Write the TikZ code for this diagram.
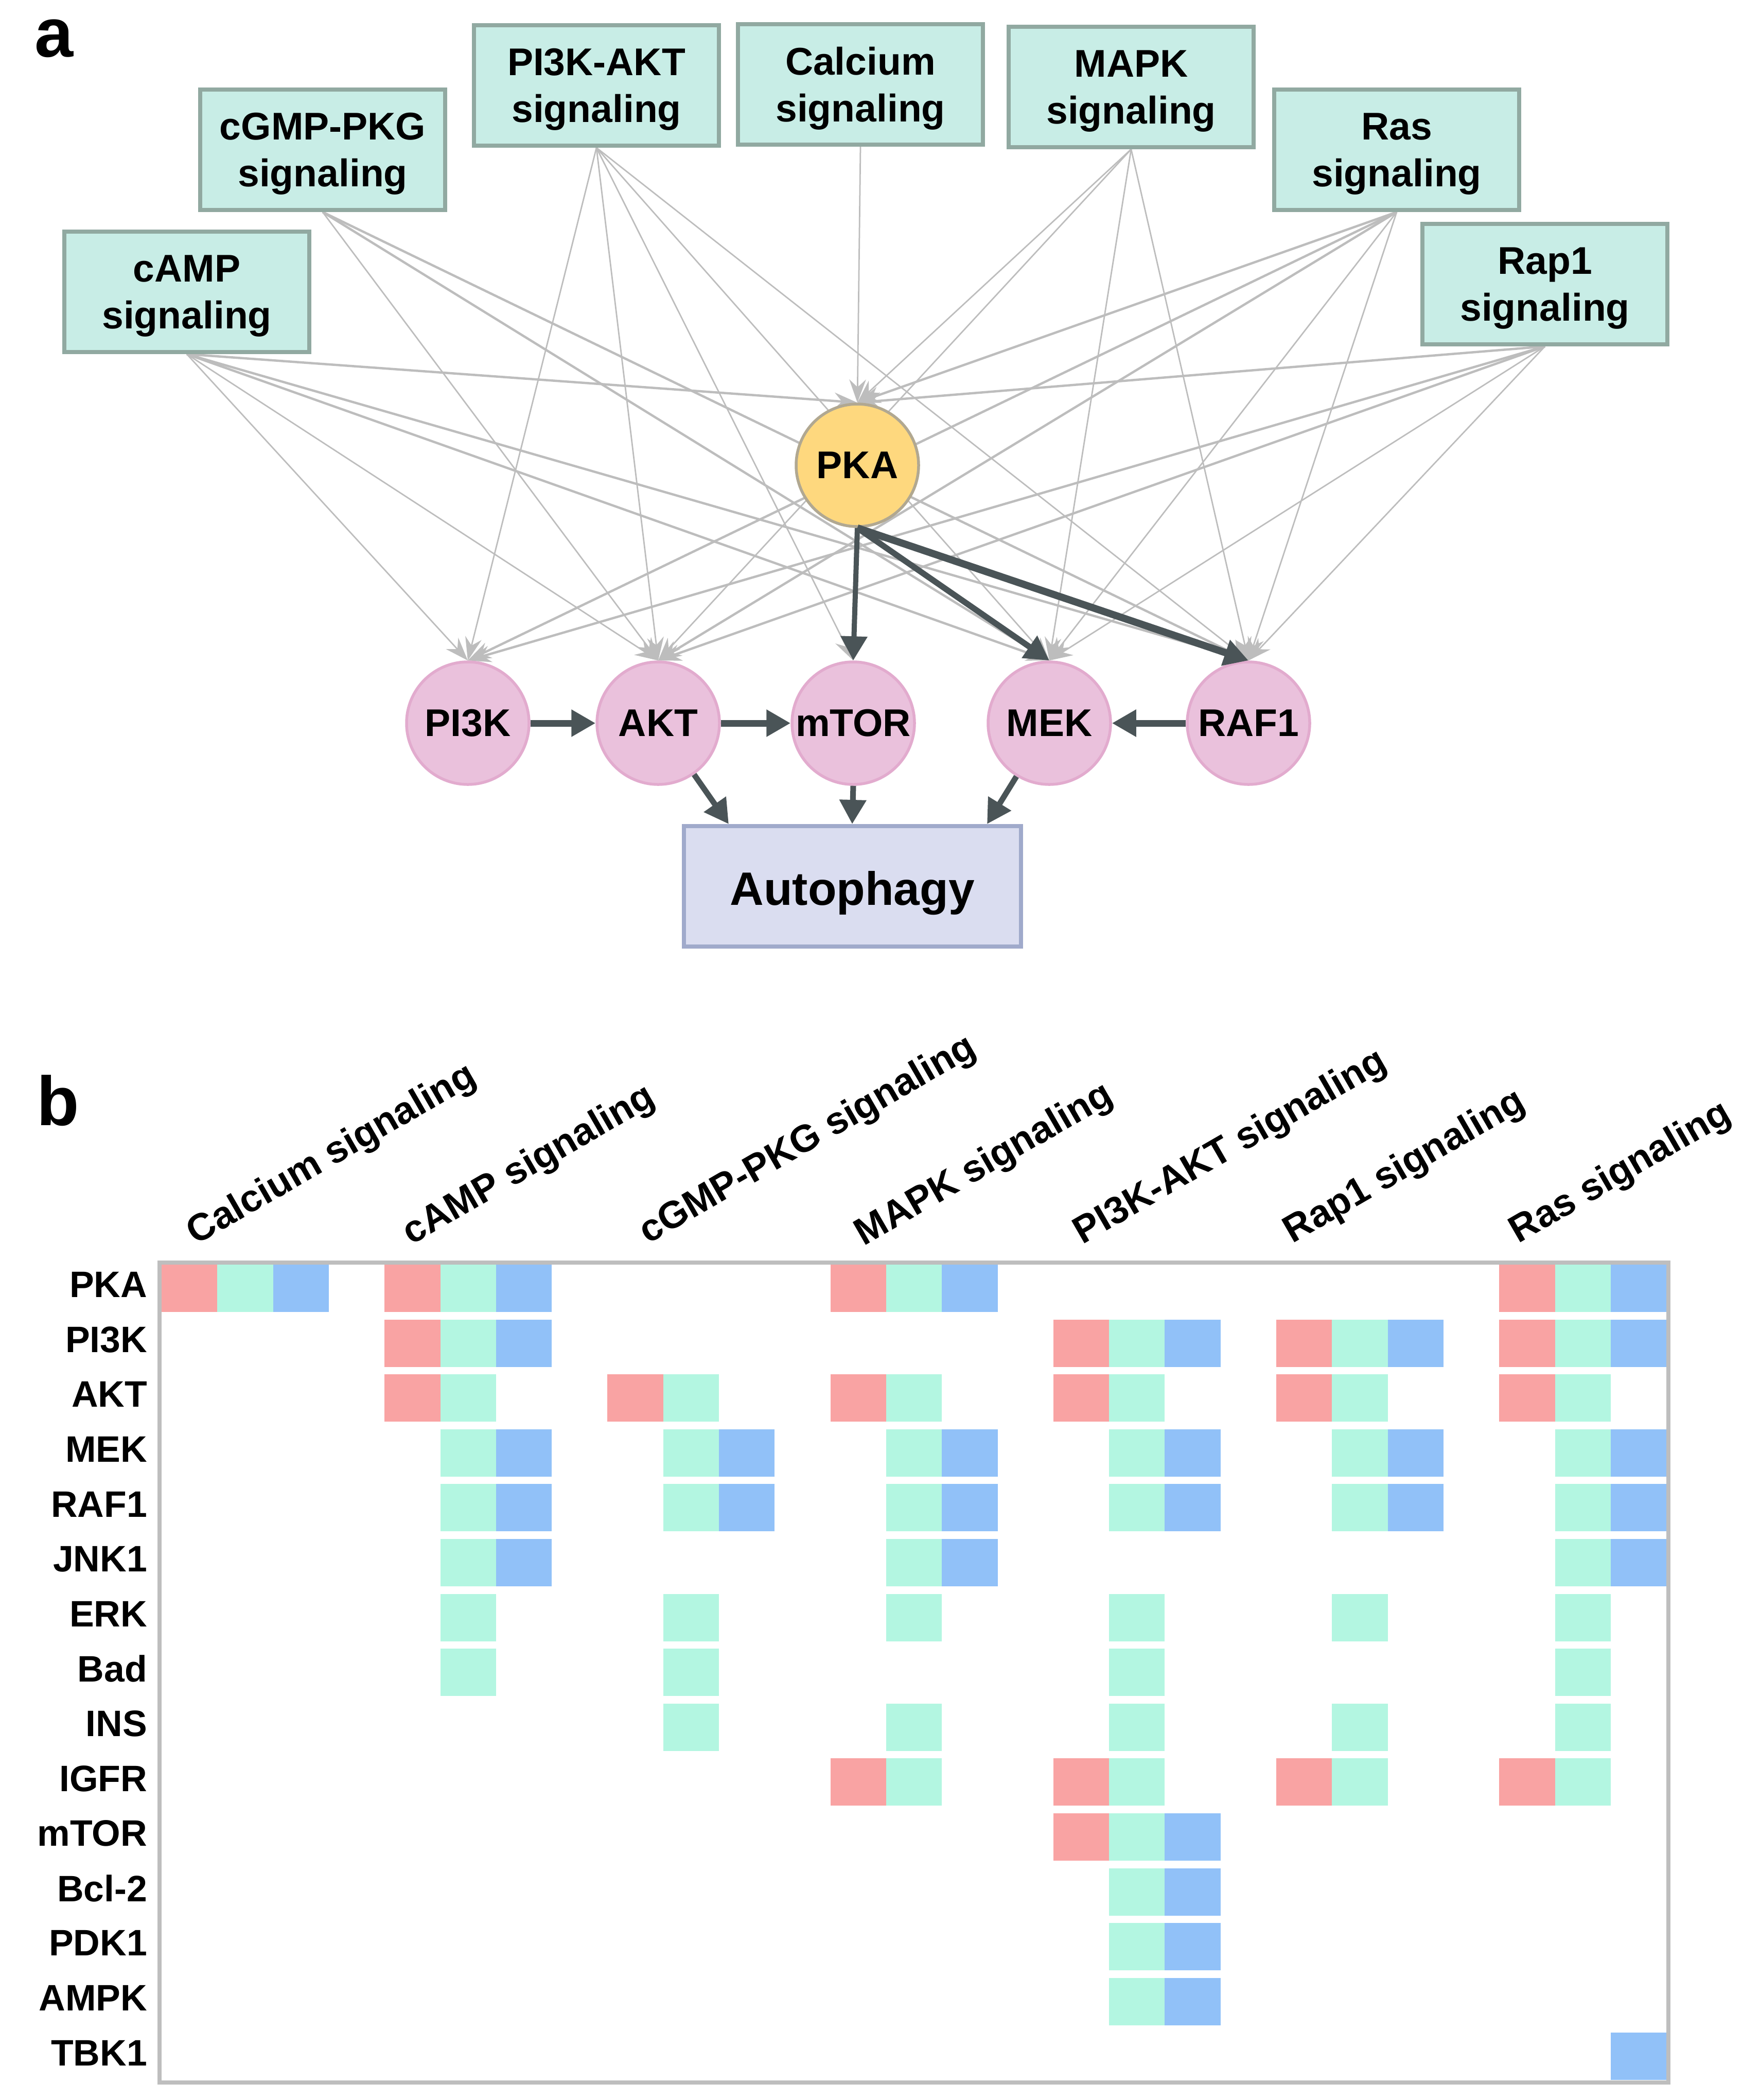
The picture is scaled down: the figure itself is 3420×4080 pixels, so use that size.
\documentclass[tikz,border=0pt]{standalone}
\usepackage{fontspec}
\setmainfont{Liberation Sans}
\usetikzlibrary{arrows.meta}
\definecolor{boxfill}{HTML}{C8EDE6}
\definecolor{boxdraw}{HTML}{91A9A1}
\definecolor{pkafill}{HTML}{FED87E}
\definecolor{pkadraw}{HTML}{B1A891}
\definecolor{pinkfill}{HTML}{EAC1DC}
\definecolor{pinkdraw}{HTML}{E2ABCE}
\definecolor{autofill}{HTML}{DADDF0}
\definecolor{autodraw}{HTML}{A0AACB}
\definecolor{darkedge}{HTML}{4A5457}
\definecolor{grayedge}{HTML}{BDBDBD}
\definecolor{c0}{HTML}{F9A3A3}
\definecolor{c1}{HTML}{B3F6E1}
\definecolor{c2}{HTML}{91C1F8}
\definecolor{framegray}{HTML}{BEBEBE}
\pgfdeclarelayer{back}
\pgfdeclarelayer{edges}
\pgfsetlayers{back,edges,main}
\begin{document}
\begin{tikzpicture}[x=0.2pt, y=-0.2pt,
 pathbox/.style={rectangle, draw=boxdraw, fill=boxfill, line width=1.6pt, minimum width=95.2pt, minimum height=46.8pt, inner sep=0pt, text depth=0pt, align=center, font=\fontsize{15}{18.2}\selectfont\bfseries},
 gene/.style={circle, draw=pinkdraw, fill=pinkfill, line width=1.1pt, minimum size=47.6pt, inner sep=0pt, font=\fontsize{15}{18}\selectfont\bfseries},
 hub/.style={gene, draw=pkadraw, fill=pkafill},
 outcome/.style={rectangle, draw=autodraw, fill=autofill, line width=1.6pt, minimum width=131pt, minimum height=46.8pt, inner sep=0pt, text depth=0pt, font=\fontsize{18.2}{22}\selectfont\bfseries},
 gedge/.style={draw=grayedge, line width=0.55pt, -{Stealth[length=9pt,width=6.5pt,inset=3pt]}},
 gthick/.style={gedge, line width=0.9pt},
 darr/.style={draw=darkedge, line width=2.4pt, -{Triangle[length=9.4pt,width=10pt]}},
 rowlbl/.style={anchor=east, font=\fontsize{14.3}{16}\selectfont\bfseries, inner sep=0pt},
 colhdr/.style={anchor=base west, rotate=30, font=\fontsize{14.8}{16}\selectfont\bfseries, inner sep=0pt},
 panel/.style={anchor=base west, font=\fontsize{27}{30}\selectfont\bfseries, inner sep=0pt}]

\useasboundingbox (0,0) rectangle (3420,4080);
\begin{pgfonlayer}{back}
\fill[white] (0,0) rectangle (3420,4080);
\end{pgfonlayer}

% ---------- panel a ----------
\node[panel] (pa) at (66,110) {a};

\node[pathbox] (cAMP) at (363,567) {cAMP\\signaling};
\node[pathbox] (cGMP) at (627,291) {cGMP-PKG\\signaling};
\node[pathbox] (PIAKT) at (1159,166) {PI3K-AKT\\signaling};
\node[pathbox] (Calc) at (1672,164) {Calcium\\signaling};
\node[pathbox] (MAPK) at (2198,169) {MAPK\\signaling};
\node[pathbox] (Ras) at (2714,291) {Ras\\signaling};
\node[pathbox] (Rap) at (3002,552) {Rap1\\signaling};

\node[hub] (PKA) at (1666,904) {PKA};
\node[gene] (PI3K) at (909,1405) {PI3K};
\node[gene] (AKT) at (1279,1405) {AKT};
\node[gene] (mTOR) at (1658,1405) {mTOR};
\node[gene] (MEK) at (2039,1405) {MEK};
\node[gene] (RAF1) at (2426,1405) {RAF1};

\node[outcome] (auto) at (1656,1722) {\raisebox{-1.6pt}{Autophagy}};
\coordinate (aL) at (1416,1601);
\coordinate (aR) at (1918,1601);

\begin{pgfonlayer}{edges}
% cAMP
\draw[gthick] (cAMP.south) -- (PKA.north);
\draw[gedge] (cAMP.south) -- (PI3K.north);
\draw[gedge] (cAMP.south) -- (AKT.north);
\draw[gthick] (cAMP.south) -- (MEK.north);
\draw[gthick] (cAMP.south) -- (RAF1.north);
% cGMP-PKG
\draw[gedge] (cGMP.south) -- (AKT.north);
\draw[gthick] (cGMP.south) -- (MEK.north);
\draw[gthick] (cGMP.south) -- (RAF1.north);
% PI3K-AKT
\draw[gedge] (PIAKT.south) -- (PI3K.north);
\draw[gedge] (PIAKT.south) -- (AKT.north);
\draw[gedge] (PIAKT.south) -- (mTOR.north);
\draw[gedge] (PIAKT.south) -- (MEK.north);
\draw[gedge] (PIAKT.south) -- (RAF1.north);
% Calcium
\draw[gedge] (Calc.south) -- (PKA.north);
% MAPK
\draw[gedge] (MAPK.south) -- (PKA.north);
\draw[gedge] (MAPK.south) -- (AKT.north);
\draw[gedge] (MAPK.south) -- (MEK.north);
\draw[gedge] (MAPK.south) -- (RAF1.north);
% Ras
\draw[gthick] (Ras.south) -- (PKA.north);
\draw[gthick] (Ras.south) -- (PI3K.north);
\draw[gthick] (Ras.south) -- (AKT.north);
\draw[gedge] (Ras.south) -- (MEK.north);
\draw[gedge] (Ras.south) -- (RAF1.north);
% Rap1
\draw[gthick] (Rap.south) -- (PKA.north);
\draw[gthick] (Rap.south) -- (PI3K.north);
\draw[gthick] (Rap.south) -- (AKT.north);
\draw[gedge] (Rap.south) -- (MEK.north);
\draw[gedge] (Rap.south) -- (RAF1.north);
\end{pgfonlayer}

\draw[darr, line width=2pt] (PKA.south) -- (mTOR.north);
\draw[darr, line width=2.3pt] (PKA.south) -- (MEK.north);
\draw[darr, line width=2.8pt] (PKA.south) -- (RAF1.north);
\draw[darr, line width=2.6pt] (PI3K) -- (AKT);
\draw[darr, line width=2.6pt] (AKT) -- (mTOR);
\draw[darr, line width=2.6pt] (RAF1) -- (MEK);
\draw[darr, line width=2.2pt] (AKT) -- (aL);
\draw[darr, line width=2.2pt] (mTOR.south) -- (auto.north);
\draw[darr, line width=2.2pt] (MEK) -- (aR);

% ---------- panel b ----------
\node[panel] (pb) at (70,2186) {b};

\node[colhdr] (h0) at (380,2420) {Calcium signaling};
\node[colhdr] (h1) at (799,2420) {cAMP signaling};
\node[colhdr] (h2) at (1259,2418) {cGMP-PKG signaling};
\node[colhdr] (h3) at (1678,2422) {MAPK signaling};
\node[colhdr] (h4) at (2103,2419) {PI3K-AKT signaling};
\node[colhdr] (h5) at (2511,2417) {Rap1 signaling};
\node[colhdr] (h6) at (2950,2417) {Ras signaling};

\foreach \lbl [count=\i from 0] in {PKA,PI3K,AKT,MEK,RAF1,JNK1,ERK,Bad,INS,IGFR,mTOR,Bcl-2,PDK1,AMPK,TBK1}
  \node[rowlbl] (row\i) at (287,{2496+\i*106.6}) {\lbl};

\foreach \r/\c in {0/0,0/1,0/2,0/4,0/5,0/6,0/12,0/13,0/14,0/24,0/25,0/26,
  1/4,1/5,1/6,1/16,1/17,1/18,1/20,1/21,1/22,1/24,1/25,1/26,
  2/4,2/5,2/8,2/9,2/12,2/13,2/16,2/17,2/20,2/21,2/24,2/25,
  3/5,3/6,3/9,3/10,3/13,3/14,3/17,3/18,3/21,3/22,3/25,3/26,
  4/5,4/6,4/9,4/10,4/13,4/14,4/17,4/18,4/21,4/22,4/25,4/26,
  5/5,5/6,5/13,5/14,5/25,5/26,
  6/5,6/9,6/13,6/17,6/21,6/25,
  7/5,7/9,7/17,7/25,
  8/9,8/13,8/17,8/21,8/25,
  9/12,9/13,9/16,9/17,9/20,9/21,9/24,9/25,
  10/16,10/17,10/18,
  11/17,11/18,
  12/17,12/18,
  13/17,13/18,
  14/26}
{
  \pgfmathsetmacro\xa{314+\c*108.3}
  \pgfmathsetmacro\ya{2457+\r*106.6}
  \pgfmathtruncatemacro\m{mod(\c,4)}
  \fill[c\m] (\xa,\ya) rectangle ++(108.3,92);
}
\draw[framegray, line width=1.6pt] (310,2453) rectangle (3242,4046);
\end{tikzpicture}
\end{document}
